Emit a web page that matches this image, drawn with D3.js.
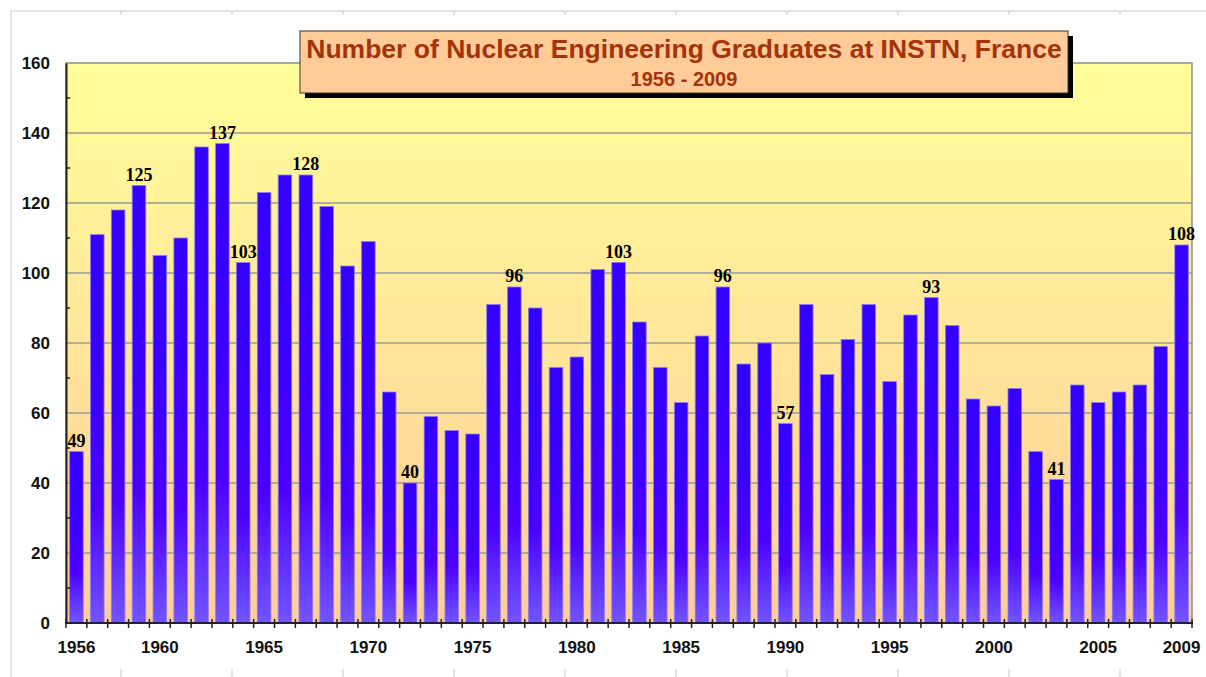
<!DOCTYPE html>
<html>
<head>
<meta charset="utf-8">
<script src="https://cdn.jsdelivr.net/npm/d3@7"></script>
<style>
body { margin: 0; background: #fff; }
svg { display: block; }
</style>
</head>
<body>
<div id="chart"></div>
<script>
// data
var years = d3.range(1956, 2010);
var graduates = [49, 111, 118, 125, 105, 110, 136, 137, 103, 123,
  128, 128, 119, 102, 109, 66, 40, 59, 55, 54,
  91, 96, 90, 73, 76, 101, 103, 86, 73, 63,
  82, 96, 74, 80, 57, 91, 71, 81, 91, 69,
  88, 93, 85, 64, 62, 67, 49, 41, 68, 63,
  66, 68, 79, 108];
var labelledYears = [1956, 1959, 1963, 1964, 1967, 1972, 1977, 1982, 1987, 1990, 1997, 2003, 2009];
var yearTicks = [1956, 1960, 1965, 1970, 1975, 1980, 1985, 1990, 1995, 2000, 2005, 2009];
var yTicks = [0, 20, 40, 60, 80, 100, 120, 140, 160];
var yMinor = [10, 30, 50, 70, 90, 110, 130, 150];

var w = 1206, h = 677;
var pLeft = 66, pRight = 1192, pTop = 63, pBottom = 623;

var svg = d3.select("#chart").append("svg")
  .attr("width", w)
  .attr("height", h);

var defs = svg.append("defs");
var bg = defs.append("linearGradient").attr("id", "bg")
  .attr("x1", 0).attr("y1", 0).attr("x2", 0).attr("y2", 1);
bg.append("stop").attr("offset", "0%").attr("stop-color", "#ffff99");
bg.append("stop").attr("offset", "100%").attr("stop-color", "#ffcc99");

var barGrad = defs.append("linearGradient").attr("id", "barGrad")
  .attr("x1", 0).attr("y1", 0).attr("x2", 0).attr("y2", 1);
barGrad.append("stop").attr("offset", "0%").attr("stop-color", "#3300ff");
barGrad.append("stop").attr("offset", "45%").attr("stop-color", "#3d00ff");
barGrad.append("stop").attr("offset", "70%").attr("stop-color", "#4c00ff");
barGrad.append("stop").attr("offset", "100%").attr("stop-color", "#7155ff");

// faint page frame
var frame = svg.append("g").attr("stroke", "#d8d8d8").attr("stroke-width", 1.5);
frame.append("line").attr("x1", 11).attr("x2", w).attr("y1", 11).attr("y2", 11);
frame.append("line").attr("x1", 11).attr("x2", 11).attr("y1", 11).attr("y2", h);
[121, 232, 343, 454, 565, 676, 787, 898, 1009, 1120].forEach(function(x) {
  frame.append("line").attr("x1", x).attr("x2", x).attr("y1", 11).attr("y2", 15);
  frame.append("line").attr("x1", x).attr("x2", x).attr("y1", h - 8).attr("y2", h);
});

// scales
var x = d3.scaleBand()
  .domain(years)
  .range([pLeft, pRight])
  .paddingInner(0.35)
  .paddingOuter(0.175);
var xEdge = d3.scaleLinear().domain([0, years.length]).range([pLeft, pRight]);
var y = d3.scaleLinear().domain([0, 160]).range([pBottom, pTop]);

// plot background
svg.append("rect")
  .attr("x", pLeft).attr("y", pTop)
  .attr("width", pRight - pLeft).attr("height", pBottom - pTop)
  .attr("fill", "url(#bg)")
  .attr("stroke", "#8c8c8c")
  .attr("stroke-width", 1.5);

// gridlines
svg.append("g").selectAll("line")
  .data(yTicks.filter(function(d) { return d > 0 && d < 160; }))
  .enter().append("line")
  .attr("x1", pLeft).attr("x2", pRight)
  .attr("y1", function(d) { return y(d); })
  .attr("y2", function(d) { return y(d); })
  .attr("stroke", "#999")
  .attr("stroke-width", 1.5);

// bars
svg.append("g").selectAll("rect")
  .data(graduates)
  .enter().append("rect")
  .attr("x", function(d, i) { return x(years[i]); })
  .attr("y", function(d) { return y(d); })
  .attr("width", x.bandwidth())
  .attr("height", function(d) { return pBottom - y(d); })
  .attr("fill", "url(#barGrad)")
  .attr("stroke", "#8a7bff")
  .attr("stroke-width", 0.8);

// value labels
svg.append("g").selectAll("text")
  .data(years.filter(function(yr) { return labelledYears.indexOf(yr) >= 0; }))
  .enter().append("text")
  .attr("x", function(yr) { return x(yr) + x.bandwidth() / 2; })
  .attr("y", function(yr) { return y(graduates[yr - 1956]) - 5; })
  .attr("text-anchor", "middle")
  .style("font-family", "'Liberation Serif', 'DejaVu Serif', serif")
  .style("font-weight", "bold")
  .style("font-size", "18px")
  .text(function(yr) { return graduates[yr - 1956]; });

// y axis
var yAxis = svg.append("g")
  .attr("transform", "translate(" + pLeft + ",0)")
  .call(d3.axisLeft(y).tickValues(yTicks).tickSize(0).tickPadding(16));
yAxis.select(".domain").attr("stroke", "#222").attr("stroke-width", 2);
yAxis.selectAll("text")
  .style("font-family", "'Liberation Sans', Arial, sans-serif")
  .style("font-weight", "bold")
  .style("font-size", "17px")
  .attr("fill", "#111");
svg.append("g").selectAll("line")
  .data(yMinor)
  .enter().append("line")
  .attr("x1", pLeft).attr("x2", pLeft + 4)
  .attr("y1", function(d) { return y(d); })
  .attr("y2", function(d) { return y(d); })
  .attr("stroke", "#222").attr("stroke-width", 1.5);

// x axis
var xAxis = svg.append("g")
  .attr("transform", "translate(0," + pBottom + ")")
  .call(d3.axisBottom(x).tickValues(yearTicks).tickSize(0).tickPadding(18));
xAxis.select(".domain").remove();
xAxis.selectAll("text")
  .style("font-family", "'Liberation Sans', Arial, sans-serif")
  .style("font-weight", "bold")
  .style("font-size", "17px")
  .attr("fill", "#111");
svg.append("line")
  .attr("x1", pLeft - 1).attr("x2", pRight + 1)
  .attr("y1", pBottom).attr("y2", pBottom)
  .attr("stroke", "#222").attr("stroke-width", 2);
svg.append("g").selectAll("line")
  .data(d3.range(0, years.length + 1))
  .enter().append("line")
  .attr("x1", function(d) { return xEdge(d); })
  .attr("x2", function(d) { return xEdge(d); })
  .attr("y1", pBottom - 4).attr("y2", pBottom + 5)
  .attr("stroke", "#222").attr("stroke-width", 1.5);

// title box
var tb = { x: 300, y: 31, w: 768, h: 62 };
svg.append("rect")
  .attr("x", tb.x + 5).attr("y", tb.y + 5)
  .attr("width", tb.w).attr("height", tb.h)
  .attr("fill", "#000");
svg.append("rect")
  .attr("x", tb.x).attr("y", tb.y)
  .attr("width", tb.w).attr("height", tb.h)
  .attr("fill", "#ffcc99")
  .attr("stroke", "#333").attr("stroke-width", 1);
svg.append("text")
  .attr("x", tb.x + tb.w / 2).attr("y", 58)
  .attr("text-anchor", "middle")
  .style("font-family", "'Liberation Sans', Arial, sans-serif")
  .style("font-weight", "bold")
  .style("font-size", "26.5px")
  .attr("fill", "#a4330a")
  .text("Number of Nuclear Engineering Graduates at INSTN, France");
svg.append("text")
  .attr("x", tb.x + tb.w / 2).attr("y", 86)
  .attr("text-anchor", "middle")
  .style("font-family", "'Liberation Sans', Arial, sans-serif")
  .style("font-weight", "bold")
  .style("font-size", "20px")
  .attr("fill", "#a4330a")
  .text("1956 - 2009");
</script>
</body>
</html>
